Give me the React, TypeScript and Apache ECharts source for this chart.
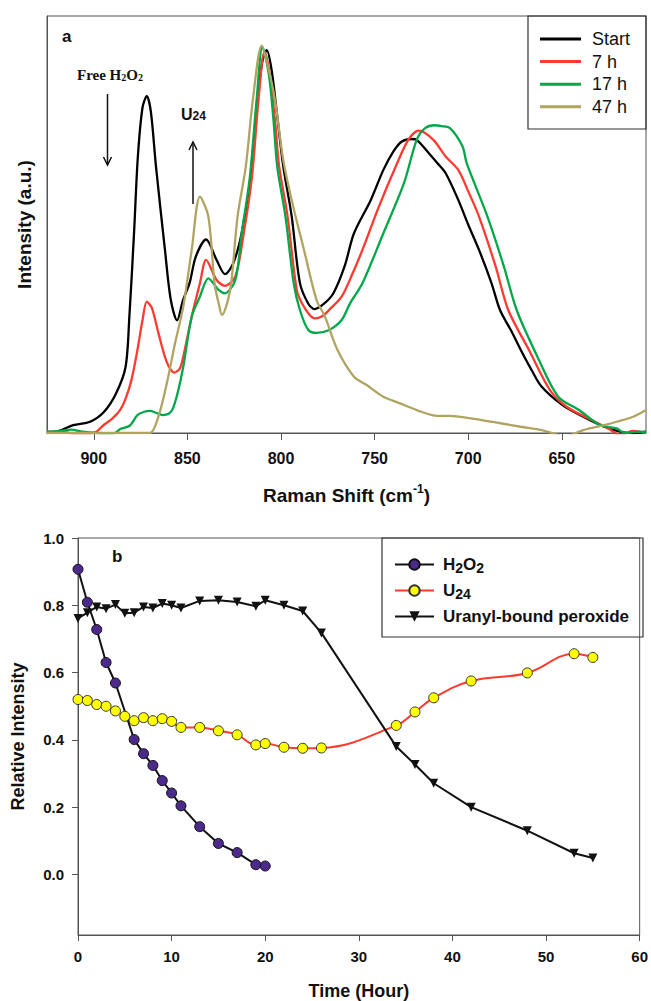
import React, { useEffect, useRef } from 'react';
import * as echarts from 'echarts';

// ---------- Panel a: Raman spectra (shift cm-1, intensity a.u.) ----------
const ramanTicks = [900, 850, 800, 750, 700, 650];

const startSpectrum: [number, number][] = [
  [925, 0], [918, 0.6], [911, 1.9], [902, 2.7], [894.5, 5.1], [888, 9.6], [883, 15.9], [881, 27.9],
  [878.5, 48], [876.5, 66], [874, 78], [871.7, 80.8], [869.5, 77], [866.8, 64], [862, 44], [858.9, 32],
  [855.5, 27], [852.3, 31.9], [848.8, 36], [845.5, 42.3], [840, 46.4], [834.4, 41.5], [829.9, 38.1],
  [825.5, 40.7], [821, 47.9], [816.6, 60], [813, 78], [810, 89], [807.6, 91.8], [805, 87], [802, 76],
  [798.8, 64], [794.3, 52], [789.9, 36], [785.4, 31], [782, 29.7], [777, 31], [772, 33.5], [766, 40],
  [761, 47.9], [752, 55.9], [745.3, 63.1], [740, 67.5], [735.4, 69.9], [730, 70.5], [727.5, 70.3],
  [721, 67.1], [716.4, 64.7], [712, 62.3], [705.3, 55.9], [700, 50], [694.2, 43.9], [687.5, 35.9],
  [683, 29.5], [677, 24.5], [671.9, 19.9], [666, 15], [660.7, 11.1], [649.6, 6.7], [638.5, 3.9],
  [627.4, 1.5], [618.5, 0.3], [612, 0], [605, 0.3],
];

const h7Spectrum: [number, number][] = [
  [925, 0.3], [915, 0.2], [908, -0.5], [899, 0.2], [895, 1.8], [890, 3.5], [886, 5.5], [883.3, 7.9],
  [880, 12.5], [876.7, 19.9], [874, 27], [871.7, 31.5], [869, 30], [865.5, 24], [861, 17], [857, 14.5],
  [854, 15.5], [852.2, 18.3], [847.7, 27.9], [843.3, 35.9], [840, 41.5], [834.4, 36.7], [830, 35.3],
  [824.4, 37.5], [819.9, 47.9], [815.5, 61.5], [812, 80], [808.8, 91.4], [806, 86], [803, 74], [801, 64],
  [796.5, 52], [791.6, 34.3], [788.8, 31.1], [785, 28.5], [782, 27.5], [778, 28], [774.3, 29.5],
  [767.6, 32.7], [762, 38], [756.5, 43.9], [747.7, 54.3], [738.7, 63.9], [732, 70.3], [726.4, 72.5],
  [718.6, 70.3], [712, 66.3], [705.3, 63.1], [700, 58], [694.2, 51.9], [685.3, 39.9], [678.6, 29.5],
  [667.5, 19.9], [656.3, 10.3], [647.4, 6.3], [634, 3.1], [625.2, 1.1], [618.5, -0.5], [612, 0.5], [605, 0],
];

const h17Spectrum: [number, number][] = [
  [925, 0.3], [918, 0.5], [912, 0.8], [906, 0.3], [898.5, 0], [893, -0.5], [888.7, 0], [885.6, 1.0],
  [880.7, 1.8], [876.7, 4.3], [873, 5.1], [870, 5.3], [866.5, 4.8], [863.3, 4.3], [860, 4.6], [857.7, 5.9],
  [855, 10], [852.2, 15.9], [847.7, 27.9], [843.3, 32.7], [838.8, 37.1], [833.3, 34.3], [830, 33.5],
  [824.4, 36.7], [821, 47.9], [816.6, 61.5], [813, 80], [809.9, 92.6], [806.5, 86], [804, 75], [802, 63.9],
  [797.6, 51.9], [793.2, 35.9], [789.9, 29.5], [785.4, 24.7], [781, 24], [774.3, 24.7], [767.6, 27.1],
  [763.1, 31.1], [756.5, 35.9], [745.3, 47.9], [734.3, 59.9], [727.5, 70.3], [723, 73.1], [718, 73.8],
  [714.2, 73.6], [709.7, 73.1], [703, 68.7], [700.8, 64.7], [689.7, 51.9], [680.9, 39.9], [674.1, 29.5],
  [663, 18.3], [651.9, 8.7], [640.8, 5.5], [629.6, 1.9], [620.7, 1.1], [616.2, 0], [612, 0.2], [608.7, 0.3],
  [605, 0.2],
];

const h47Spectrum: [number, number][] = [
  [925, 0], [900, 0], [880, 0], [870, 0], [865.5, 3.9], [861, 11.9], [856.6, 21.5], [852.2, 30.3],
  [847.7, 43.9], [843.3, 56.7], [838.8, 51.9], [835.5, 35.9], [833.3, 31.1], [831.5, 28.3], [828.8, 31.1],
  [826.6, 35.9], [823.2, 51.9], [818.8, 63.9], [815, 80], [810.3, 92.9], [807, 88], [803.2, 79.9],
  [798.8, 65.5], [794.3, 55.9], [787.7, 43.9], [781, 31.9], [776.5, 27.9], [769.8, 19.9], [761, 13.5],
  [754.2, 11.5], [745.3, 8.7], [736.4, 7.1], [727.5, 5.5], [716.4, 4.1], [709.7, 4.1], [698.6, 3.5],
  [687.5, 2.7], [671.9, 1.5], [660.7, 0.7], [651.9, -0.5], [648, -1], [645, -0.5], [638.5, 0.7],
  [627.4, 1.9], [620.7, 2.7], [611.8, 3.9], [605, 5.5],
];

const spectrumNames = ['Start', '7 h', '17 h', '47 h'];

// ---------- Panel b: relative intensity vs time ----------
const h2o2Hours = [0, 1, 2, 3, 4, 6, 7, 8, 9, 10, 11, 13, 15, 17, 19, 20];
const h2o2Values = [0.907, 0.809, 0.728, 0.630, 0.569, 0.401, 0.359, 0.324, 0.279, 0.242, 0.204, 0.142, 0.092, 0.065, 0.029, 0.025];

const u24Hours = [0, 1, 2, 3, 4, 5, 6, 7, 8, 9, 10, 11, 13, 15, 17, 19, 20, 22, 24, 26, 34, 36, 38, 42, 48, 53, 55];
const u24Values = [0.520, 0.517, 0.505, 0.500, 0.486, 0.470, 0.457, 0.466, 0.457, 0.463, 0.455, 0.437, 0.437, 0.427, 0.415, 0.385, 0.389, 0.378, 0.375, 0.376, 0.443, 0.483, 0.525, 0.575, 0.599, 0.656, 0.645];

const peroxideHours = [0, 1, 2, 3, 4, 5, 6, 7, 8, 9, 10, 11, 13, 15, 17, 19, 20, 22, 24, 26, 34, 36, 38, 42, 48, 53, 55];
const peroxideValues = [0.761, 0.778, 0.795, 0.790, 0.802, 0.776, 0.778, 0.795, 0.792, 0.805, 0.800, 0.792, 0.813, 0.815, 0.810, 0.797, 0.815, 0.800, 0.783, 0.718, 0.380, 0.327, 0.271, 0.200, 0.130, 0.063, 0.049];

const relTicks = [0, 0.2, 0.4, 0.6, 0.8, 1.0];
const timeNames = ['H2O2', 'U24', 'Uranyl-bound peroxide'];

const FONT = 'Liberation Sans, Arial, sans-serif';
const SERIF = 'Liberation Serif, Times New Roman, serif';
const AXIS = '#555';

function zip(xs: number[], ys: number[]): [number, number][] {
  return xs.map((x, i) => [x, ys[i]]);
}

export default function App() {
  const ref = useRef<HTMLDivElement>(null);

  useEffect(() => {
    document.body.style.margin = '0';
    if (!ref.current) return;
    const chart = echarts.init(ref.current, undefined, { renderer: 'svg' });

    const specColors = ['#000000', '#ff3a30', '#00a84a', '#b0a462'];
    const spectra = [startSpectrum, h7Spectrum, h17Spectrum, h47Spectrum];

    const specSeries = spectra.map((d, i) => ({
      name: spectrumNames[i],
      type: 'line',
      xAxisIndex: 0,
      yAxisIndex: 0,
      data: d,
      symbol: 'none',
      smooth: 0.3,
      color: specColors[i],
      lineStyle: { color: specColors[i], width: 2.3 },
      itemStyle: { color: specColors[i] },
      z: 3,
    }));

    const option: any = {
      animation: false,
      textStyle: { fontFamily: FONT },
      grid: [
        { left: 47, top: 16, width: 599, height: 417, show: true, borderColor: AXIS, borderWidth: 1, containLabel: false },
        { left: 78, top: 538, width: 565, height: 397, show: true, borderColor: AXIS, borderWidth: 1, containLabel: false },
      ],
      xAxis: [
        {
          gridIndex: 0, type: 'value', min: 605, max: 925, inverse: true,
          axisLine: { show: true, onZero: false, lineStyle: { color: AXIS, width: 1 } },
          axisTick: { show: true, customValues: ramanTicks, length: 7, lineStyle: { color: AXIS } },
          axisLabel: { customValues: ramanTicks, margin: 17, fontSize: 16, fontWeight: 'bold', color: '#111', fontFamily: FONT },
          splitLine: { show: false },
          name: 'Raman Shift (cm{sup|-1})', nameLocation: 'middle', nameGap: 50,
          nameTextStyle: {
            fontSize: 19, fontWeight: 'bold', color: '#111', fontFamily: FONT, lineHeight: 24,
            rich: { sup: { fontSize: 12, fontWeight: 'bold', color: '#111', fontFamily: FONT, verticalAlign: 'top' } },
          },
        },
        {
          gridIndex: 1, type: 'value', min: 0, max: 60, interval: 10,
          axisLine: { show: true, onZero: false, lineStyle: { color: AXIS, width: 1 } },
          axisTick: { show: true, length: 6, lineStyle: { color: AXIS } },
          axisLabel: { margin: 14, fontSize: 15, fontWeight: 'bold', color: '#111', fontFamily: FONT },
          splitLine: { show: false },
          name: 'Time (Hour)', nameLocation: 'middle', nameGap: 47,
          nameTextStyle: { fontSize: 18, fontWeight: 'bold', color: '#111', fontFamily: FONT },
        },
      ],
      yAxis: [
        {
          gridIndex: 0, type: 'value', min: 0, max: 100,
          axisLine: { show: true, onZero: false, lineStyle: { color: AXIS, width: 1 } },
          axisTick: { show: false }, axisLabel: { show: false }, splitLine: { show: false },
          name: 'Intensity (a.u.)', nameLocation: 'middle', nameGap: 13,
          nameTextStyle: { fontSize: 19, fontWeight: 'bold', color: '#111', fontFamily: FONT },
        },
        {
          gridIndex: 1, type: 'value', min: -0.18, max: 1.0,
          axisLine: { show: true, onZero: false, lineStyle: { color: AXIS, width: 1 } },
          axisTick: { show: true, customValues: relTicks, length: 6, lineStyle: { color: AXIS } },
          axisLabel: {
            customValues: relTicks, margin: 14, fontSize: 15, fontWeight: 'bold', color: '#111', fontFamily: FONT,
            formatter: (v: number) => v.toFixed(1),
          },
          splitLine: { show: false },
          name: 'Relative Intensity', nameLocation: 'middle', nameGap: 51,
          nameTextStyle: { fontSize: 18, fontWeight: 'bold', color: '#111', fontFamily: FONT },
        },
      ],
      legend: [
        {
          data: spectrumNames, orient: 'vertical', left: 540, top: 30, padding: 0,
          itemWidth: 41, itemHeight: 3, icon: 'rect', itemGap: 4.6, selectedMode: false,
          textStyle: { fontSize: 18, lineHeight: 18, color: '#111', fontFamily: FONT, padding: [0, 0, 0, 6] },
        },
        {
          data: timeNames, orient: 'vertical', left: 394, top: 554, padding: 0,
          itemWidth: 39, itemHeight: 13, itemGap: 5, selectedMode: false,
          formatter: (name: string) => {
            if (name === 'H2O2') return 'H{sub|2}O{sub|2}';
            if (name === 'U24') return 'U{sub|24}';
            return name;
          },
          textStyle: {
            fontSize: 17, fontWeight: 'bold', lineHeight: 21, color: '#111', fontFamily: FONT, padding: [0, 0, 0, 4],
            rich: { sub: { fontSize: 14, fontWeight: 'bold', color: '#111', fontFamily: FONT, verticalAlign: 'bottom' } },
          },
        },
      ],
      graphic: [
        { type: 'rect', shape: { x: 528, y: 16, width: 118, height: 113 }, style: { fill: 'none', stroke: '#333', lineWidth: 1.2 }, z: 10 },
        { type: 'rect', shape: { x: 382, y: 538, width: 261, height: 99 }, style: { fill: 'none', stroke: '#333', lineWidth: 1.2 }, z: 10 },
        { type: 'text', x: 62, y: 36, style: { text: 'a', font: `bold 17px ${FONT}`, fill: '#111', align: 'left', verticalAlign: 'middle' }, z: 10 },
        { type: 'text', x: 112, y: 556, style: { text: 'b', font: `bold 17px ${FONT}`, fill: '#111', align: 'left', verticalAlign: 'middle' }, z: 10 },
        {
          type: 'text', x: 77, y: 75, z: 10,
          style: {
            text: 'Free H{s|2}O{s|2}', font: `bold 15px ${SERIF}`, fill: '#111', align: 'left', verticalAlign: 'middle',
            rich: { s: { font: `bold 10px ${SERIF}`, fill: '#111', verticalAlign: 'bottom' } },
          },
        },
        {
          type: 'text', x: 181, y: 114, z: 10,
          style: {
            text: 'U{s|24}', font: `bold 16px ${FONT}`, fill: '#111', align: 'left', verticalAlign: 'middle',
            rich: { s: { font: `bold 12px ${FONT}`, fill: '#111', verticalAlign: 'bottom' } },
          },
        },
        { type: 'line', shape: { x1: 107.5, y1: 94, x2: 107.5, y2: 165 }, style: { stroke: '#111', lineWidth: 1.5 }, z: 10 },
        { type: 'polyline', shape: { points: [[103.5, 157], [107.5, 165], [111.5, 157]] }, style: { stroke: '#111', lineWidth: 1.5, fill: 'none' }, z: 10 },
        { type: 'line', shape: { x1: 193, y1: 204, x2: 193, y2: 142 }, style: { stroke: '#111', lineWidth: 1.5 }, z: 10 },
        { type: 'polyline', shape: { points: [[189, 150], [193, 142], [197, 150]] }, style: { stroke: '#111', lineWidth: 1.5, fill: 'none' }, z: 10 },
      ],
      series: [
        ...specSeries,
        {
          name: 'H2O2', type: 'line', xAxisIndex: 1, yAxisIndex: 1,
          data: zip(h2o2Hours, h2o2Values),
          symbol: 'circle', symbolSize: 10,
          color: '#4b2a8c',
          lineStyle: { color: '#111', width: 2 },
          itemStyle: { color: '#4b2a8c', borderColor: '#111', borderWidth: 1 },
          z: 3,
        },
        {
          name: 'U24', type: 'line', xAxisIndex: 1, yAxisIndex: 1,
          data: zip(u24Hours, u24Values),
          symbol: 'circle', symbolSize: 10, smooth: 0.4,
          color: '#ffff00',
          lineStyle: { color: '#ff3b30', width: 2 },
          itemStyle: { color: '#ffff00', borderColor: '#333', borderWidth: 1 },
          z: 4,
        },
        {
          name: 'Uranyl-bound peroxide', type: 'line', xAxisIndex: 1, yAxisIndex: 1,
          data: zip(peroxideHours, peroxideValues),
          symbol: 'triangle', symbolSize: 9, symbolRotate: 180,
          color: '#111',
          lineStyle: { color: '#111', width: 2 },
          itemStyle: { color: '#111' },
          z: 5,
        },
      ],
    };

    chart.setOption(option);
    return () => chart.dispose();
  }, []);

  return <div ref={ref} style={{ width: 651, height: 1001 }} />;
}
